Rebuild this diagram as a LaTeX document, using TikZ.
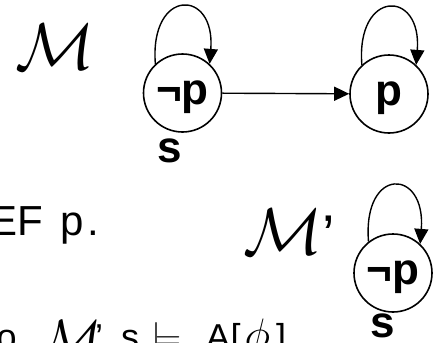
\RequirePackage{fix-cm}
\documentclass[tikz,border=0pt]{standalone}
\usepackage{fontspec}
\setmainfont{Liberation Sans}
\usetikzlibrary{arrows.meta}
\newcommand{\gl}[2]{\makebox[#1][l]{#2}}
\begin{document}
\begin{tikzpicture}[x=1pt,y=-1pt,
  state/.style={circle,draw,line width=1.6pt,minimum size=78pt,inner sep=0pt,
    font=\fontsize{44}{44}\selectfont\bfseries,text depth=0pt},
  lbl/.style={font=\fontsize{44}{44}\selectfont\bfseries,inner sep=0pt},
  edge/.style={line width=1.4pt,-{Triangle[length=15pt,width=14pt]}},
  body/.style={font=\fontsize{36}{36}\selectfont,inner sep=0pt},
  cal/.style={font=\fontsize{66}{66}\selectfont,inner sep=0pt}]
\useasboundingbox (0,0) rectangle (437,343);
\clip (0,0) rectangle (437,343);
% states
\node[state] (n1) at (182.5,93) {¬p};
\node[state] (n2) at (389,94) {p};
\node[state] (n3) at (393,273) {¬p};
\node[lbl,anchor=base] (s1) at (170,162) {s};
\node[lbl,anchor=base] (s3) at (383,337) {s};
% model names
\node[cal] (m1) at (55,47) {$\mathcal{M}$};
\node[cal] (m2) at (289,232) {$\mathcal{M}$\fontsize{56}{56}\selectfont’};
% transitions
\draw[edge] (n1.133) .. controls +(-6,-76) and +(6,-76) .. (n1.47);
\draw[edge] (n2.133) .. controls +(-6,-76) and +(6,-76) .. (n2.47);
\draw[edge] (n3.128) .. controls +(-6,-76) and +(6,-76) .. (n3.47);
\draw[edge] (n1) -- (n2);
% text
\node[body,font=\fontsize{42}{42}\selectfont,anchor=base west] (t1) at (-11,235) {EF\hspace{17.5pt}p\hspace{4pt}.};
\node[body,anchor=base west] (t2) at (-3.5,349)
  {\gl{43.5pt}{o}\gl{55pt}{\fontsize{51}{51}\selectfont\raisebox{-6pt}{$\mathcal{M}$}}\gl{26pt}{’}\gl{30pt}{s}\gl{55pt}{$\models$}\gl{24.5pt}{A}\gl{14pt}{[}\gl{31.5pt}{\fontsize{44}{44}\selectfont$\phi$}]};
\end{tikzpicture}
\end{document}
